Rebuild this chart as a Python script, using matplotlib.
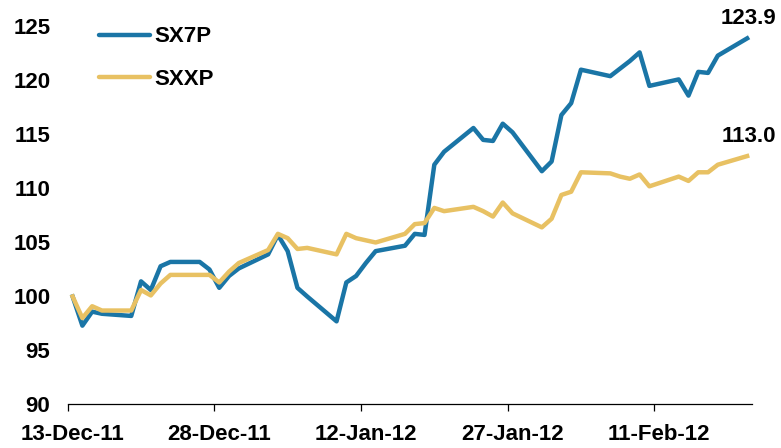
import numpy as np
import pandas as pd
import matplotlib
matplotlib.use("Agg")
import matplotlib.pyplot as plt

plt.rcParams['font.family'] = ['Liberation Sans', 'DejaVu Sans']
plt.rcParams['font.weight'] = 'bold'
plt.rcParams['font.size'] = 16

# trading days, 13-Dec-11 to 20-Feb-12 (holidays carried forward)
dates = pd.bdate_range("2011-12-13", "2012-02-20")

sx7p = [100.0, 97.3, 98.6, 98.4, 98.2, 101.4, 100.6, 102.8, 103.2, 103.2,
        102.5, 100.8, 101.9, 102.6, 103.9, 105.7, 104.2, 100.8, 100.0, 97.7,
        101.3, 101.9, 103.1, 104.2, 104.7, 105.8, 105.7, 112.2, 113.4, 115.6,
        114.5, 114.4, 116.0, 115.2, 111.6, 112.5, 116.8, 117.9, 121.0, 120.4,
        121.1, 121.8, 122.6, 119.5, 120.1, 118.6, 120.8, 120.7, 122.3, 123.9]

sxxp = [100.0, 98.0, 99.1, 98.7, 98.7, 100.6, 100.1, 101.2, 102.0, 102.0,
        102.0, 101.3, 102.3, 103.1, 104.3, 105.8, 105.4, 104.4, 104.5, 103.9,
        105.8, 105.4, 105.2, 105.0, 105.8, 106.7, 106.8, 108.2, 107.9, 108.3,
        107.9, 107.4, 108.7, 107.7, 106.4, 107.2, 109.4, 109.7, 111.5, 111.4,
        111.1, 110.9, 111.3, 110.2, 111.1, 110.7, 111.5, 111.5, 112.2, 113.0]

series_names = ["SX7P", "SXXP"]
series_colors = ["#1a75a6", "#e8c163"]
tick_dates = ["2011-12-13", "2011-12-28", "2012-01-12", "2012-01-27", "2012-02-11"]
y_ticks = [90, 95, 100, 105, 110, 115, 120, 125]

fig = plt.figure(figsize=(7.81, 4.48), dpi=100)
ax = fig.add_axes([0.0867, 0.0971, 0.8762, 0.8438])

half_day = pd.Timedelta(hours=12)
ax.plot(dates, sx7p, color=series_colors[0], lw=3.2, label=series_names[0])
ax.plot(dates, sxxp, color=series_colors[1], lw=3.2, label=series_names[1])

# end-of-series value labels
for vals in (sx7p, sxxp):
    ax.annotate(f"{vals[-1]:.1f}", xy=(dates[-1], vals[-1]), xytext=(1, 14),
                textcoords='offset points', ha='center', va='center',
                fontsize=16, fontweight='bold', annotation_clip=False)

ax.set_xlim(dates[0] - half_day, dates[-1] + half_day)
ax.set_ylim(90, 125)

# Excel style date axis: labels on the day, tick marks on day boundaries
label_pos = [pd.Timestamp(d) for d in tick_dates]
ax.set_xticks(label_pos)
ax.set_xticklabels([d.strftime("%d-%b-%y") for d in label_pos])
ax.set_xticks([d - half_day for d in label_pos], minor=True)
ax.set_yticks(y_ticks)

for s in ['top', 'right', 'left']:
    ax.spines[s].set_visible(False)
ax.spines['bottom'].set_linewidth(0.9)
ax.tick_params(axis='x', which='major', length=0, pad=14)
ax.tick_params(axis='x', which='minor', direction='out', length=5, width=0.9)
ax.tick_params(axis='y', length=0, pad=12.5)

leg = ax.legend(loc='upper left', bbox_to_anchor=(0.016, 1.053), frameon=False,
                handlelength=2.3, handletextpad=0.2, labelspacing=0.95,
                fontsize=16)
for line in leg.get_lines():
    line.set_linewidth(3.2)
    line.set_solid_capstyle('round')

fig.savefig("out.png", dpi=100)
